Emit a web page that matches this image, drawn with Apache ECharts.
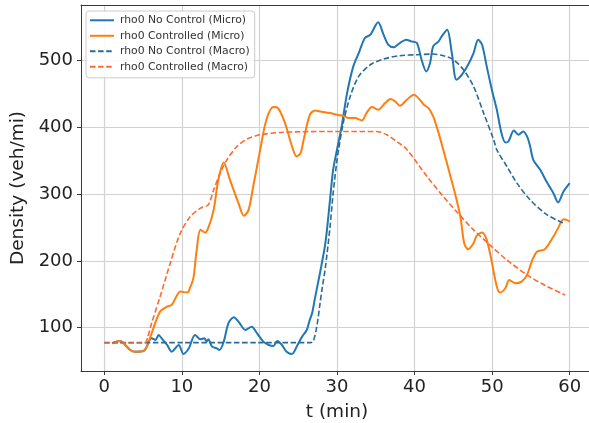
<!DOCTYPE html>
<html>
<head>
<meta charset="utf-8">
<script src="https://cdn.jsdelivr.net/npm/echarts@6/dist/echarts.min.js"></script>
<style>html,body{margin:0;padding:0;background:#fff;}#c{width:589px;height:423px;}</style>
</head>
<body>
<div id="c"></div>
<script>
// ---- data ----
var seriesNames = ['rho0 No Control (Micro)', 'rho0 Controlled (Micro)', 'rho0 No Control (Macro)', 'rho0 Controlled (Macro)'];
var xTicks = [0, 10, 20, 30, 40, 50, 60];
var yTicks = [100, 200, 300, 400, 500];

var noCtrlMicroT = [1.0, 2.06, 2.7, 3.35, 4.0, 5.06, 5.5, 5.7, 6.1, 6.6, 7.0, 7.4, 8.1, 8.7, 9.6, 10.2, 10.9, 11.7, 12.4, 12.9, 13.2, 13.4, 13.9, 14.5, 14.85, 15.4, 16.0, 16.7, 17.3, 18.2, 19.0, 19.7, 20.5, 21.2, 21.8, 22.3, 22.9, 23.5, 24.2, 24.8, 25.5, 26.1, 26.5, 26.8, 27.2, 27.8, 28.5, 29.1, 29.5, 30.0, 30.6, 31.3, 32.1, 32.8, 33.6, 34.3, 35.3, 36.0, 36.6, 37.3, 38.1, 38.9, 39.6, 40.3, 40.9, 41.5, 42.0, 42.4, 43.1, 43.5, 44.2, 44.8, 45.4, 46.1, 46.9, 47.6, 48.2, 48.7, 49.3, 49.96, 50.6, 51.2, 51.7, 52.1, 52.8, 53.4, 54.0, 54.5, 54.9, 55.3, 56.2, 57.0, 57.9, 58.5, 59.2, 60.0];
var noCtrlMicro = [76.5, 80, 74, 66.5, 64, 65, 72, 79, 84, 81.5, 89, 84, 74, 64, 74, 60.5, 69, 89, 82.5, 84, 79, 82.5, 71.5, 69, 66.5, 79, 106.5, 115.5, 109, 96.5, 101.5, 91.5, 79, 74, 72.5, 80, 74, 64, 60.5, 71.5, 86.5, 96.5, 112, 122, 146.5, 181.5, 226.5, 291.5, 336.5, 366.5, 401.5, 451.5, 491.5, 511.5, 534, 539, 557.5, 539, 524, 520, 526.5, 531.5, 529, 526.5, 501.5, 484, 496.5, 521.5, 529, 536.5, 546.5, 511.5, 471.5, 479, 494, 511.5, 531.5, 524, 491.5, 456.5, 426.5, 391.5, 377.5, 379, 395.5, 389, 394, 386.5, 371.5, 351.5, 336.5, 319, 301.5, 287.5, 304, 316.5];

var ctrlMicroT = [1.0, 2.06, 2.7, 3.35, 4.0, 5.06, 5.5, 6.1, 7.2, 8.1, 8.7, 9.4, 9.8, 10.7, 11.1, 11.5, 11.9, 12.4, 13.0, 13.4, 14.1, 14.7, 15.4, 16.2, 17.3, 18.0, 18.6, 19.2, 20.1, 20.9, 21.8, 22.4, 23.3, 24.2, 24.8, 25.3, 25.7, 26.5, 27.2, 27.8, 29.1, 30.0, 30.8, 31.5, 32.3, 33.2, 33.8, 34.5, 35.3, 36.2, 36.9, 37.5, 38.1, 39.0, 39.9, 40.5, 41.2, 41.8, 42.4, 43.1, 43.7, 44.4, 45.2, 45.9, 46.4, 46.9, 47.6, 48.0, 48.7, 49.3, 49.9, 50.6, 51.0, 51.7, 52.2, 52.96, 53.8, 54.5, 55.1, 55.8, 56.8, 57.9, 58.5, 59.2, 59.6, 60.0];
var ctrlMicro = [76.5, 80, 74, 66.5, 64, 65, 71.5, 91.5, 124, 131.5, 134, 149, 154, 152.5, 161, 175, 215, 246.5, 242.5, 249, 276.5, 321.5, 347.5, 321.5, 286.5, 267.5, 276.5, 311.5, 366.5, 411.5, 430.5, 429, 406.5, 371.5, 356.5, 361.5, 381.5, 419, 425.5, 424, 421.5, 419, 417.5, 414, 414, 410.5, 421.5, 430.5, 426.5, 436.5, 442.5, 439, 432.5, 441.5, 449, 444, 434, 429, 416.5, 391.5, 366.5, 336.5, 301.5, 266.5, 226.5, 217.5, 226.5, 237.5, 242.5, 231.5, 201.5, 161.5, 152.5, 159, 171.5, 166.5, 169, 179, 199, 214, 217.5, 236.5, 249, 262.5, 261.5, 259];

var noCtrlMacroT = [0, 10, 20, 26.6, 26.95, 27.4, 27.8, 28.1, 28.5, 29.1, 29.5, 30.0, 30.2, 30.8, 31.7, 32.8, 34.3, 36.0, 38.1, 40.3, 42.4, 43.7, 45.0, 46.3, 47.6, 48.9, 50.2, 50.6, 51.9, 53.2, 54.9, 57.1, 59.4];
var noCtrlMacro = [77.5, 77.5, 77.5, 77.5, 80, 102, 135, 160, 190, 251, 301, 351.5, 366.5, 406.5, 446.5, 476.5, 494, 502.5, 507.5, 509, 510, 507.5, 501.5, 486.5, 461.5, 421.5, 381.5, 366.5, 341.5, 316.5, 291.5, 269, 255.5];

var ctrlMacroT = [0, 3, 5.2, 5.6, 6.1, 7.2, 8.5, 9.8, 11.1, 12.4, 13.4, 14.1, 14.95, 15.8, 17.1, 18.4, 20.1, 22.7, 25.3, 30.0, 35.1, 36.4, 37.7, 39.0, 41.6, 43.7, 45.4, 47.6, 49.7, 51.9, 54.5, 57.1, 59.4];
var ctrlMacro = [77, 77, 77, 86, 106.5, 146.5, 196.5, 241.5, 266.5, 279, 284, 306.5, 331.5, 351.5, 371.5, 382.5, 389, 392.5, 393.5, 394, 394, 389, 379, 367, 326.5, 296.5, 274, 246.5, 224, 201.5, 179, 161.5, 149];

// ---- chart ----
function pairs(ts, vs) { return ts.map(function (t, i) { return [t, vs[i]]; }); }
var FONT = 'DejaVu Sans';
var colors = ['#1f77b4', '#ff7f0e', '#2a6a98', '#ff6a2e'];
var SPINE = '#3a3a3a';

var chart = echarts.init(document.getElementById('c'), null, { renderer: 'canvas' });
chart.setOption({
  animation: false,
  backgroundColor: '#ffffff',
  grid: { left: 81, top: 5, width: 512, height: 366, show: false, containLabel: false, outerBoundsMode: 'none' },
  legend: {
    orient: 'vertical', left: 86, top: 11,
    padding: [3.3, 5, 5, 3], itemGap: 3.5, itemWidth: 24, itemHeight: 12,
    backgroundColor: 'rgba(255,255,255,0.85)', borderColor: '#cccccc', borderWidth: 1, borderRadius: 3,
    itemStyle: { opacity: 0 },
    textStyle: { fontFamily: FONT, fontSize: 10.8, color: '#333', lineHeight: 12, padding: [0, 0, 0, 1] },
    data: seriesNames
  },
  xAxis: [{
    type: 'value', min: -3, max: 63, position: 'bottom',
    name: 't (min)', nameLocation: 'middle', nameGap: 32,
    nameTextStyle: { fontFamily: FONT, fontSize: 18.5, color: '#222' },
    axisLine: { show: true, onZero: false, lineStyle: { color: SPINE, width: 1 } },
    axisTick: { show: true, length: 4, lineStyle: { color: SPINE }, customValues: xTicks },
    axisLabel: { fontFamily: FONT, fontSize: 18, color: '#222', margin: 7, customValues: xTicks },
    splitLine: { show: true, lineStyle: { color: '#d2d2d2', width: 1.2 } }
  }, {
    type: 'value', min: -3, max: 63, position: 'top',
    axisLine: { show: true, onZero: false, lineStyle: { color: SPINE, width: 1 } },
    axisTick: { show: false }, axisLabel: { show: false }, splitLine: { show: false }
  }],
  yAxis: {
    type: 'value', min: 35, max: 583.5,
    name: 'Density (veh/mi)', nameLocation: 'middle', nameGap: 43,
    nameTextStyle: { fontFamily: FONT, fontSize: 18.5, color: '#222' },
    axisLine: { show: true, onZero: false, lineStyle: { color: SPINE, width: 1 } },
    axisTick: { show: true, length: 4, lineStyle: { color: SPINE }, customValues: yTicks },
    axisLabel: { fontFamily: FONT, fontSize: 18, color: '#222', margin: 8, customValues: yTicks },
    splitLine: { show: true, lineStyle: { color: '#d2d2d2', width: 1.2 } }
  },
  series: [
    { name: seriesNames[0], type: 'line', data: pairs(noCtrlMicroT, noCtrlMicro), showSymbol: false, symbol: 'none', smooth: 0.3,
      color: colors[0], lineStyle: { color: colors[0], width: 2 } },
    { name: seriesNames[1], type: 'line', data: pairs(ctrlMicroT, ctrlMicro), showSymbol: false, symbol: 'none', smooth: 0.3,
      color: colors[1], lineStyle: { color: colors[1], width: 2 } },
    { name: seriesNames[2], type: 'line', data: pairs(noCtrlMacroT, noCtrlMacro), showSymbol: false, symbol: 'none', smooth: 0.3,
      color: colors[2], lineStyle: { color: colors[2], width: 1.6, type: [5.5, 2.6] } },
    { name: seriesNames[3], type: 'line', data: pairs(ctrlMacroT, ctrlMacro), showSymbol: false, symbol: 'none', smooth: 0.3,
      color: colors[3], lineStyle: { color: colors[3], width: 1.6, type: [5.5, 2.6] } }
  ]
});
</script>
</body>
</html>
